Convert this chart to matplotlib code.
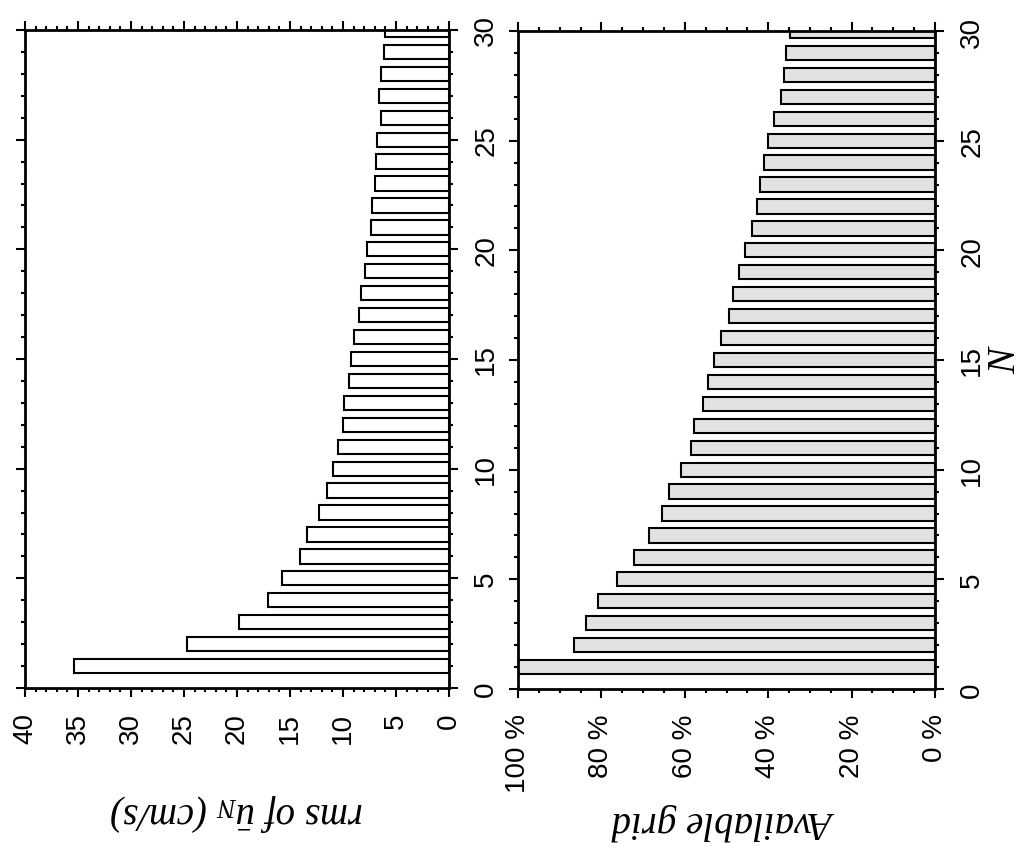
import matplotlib
matplotlib.use("Agg")
import matplotlib.pyplot as plt
from matplotlib.ticker import MultipleLocator, FuncFormatter

N = list(range(1, 31))
rms_values = [35.4, 24.7, 19.8, 17.1, 15.8, 14.1, 13.4, 12.3, 11.5, 10.9,
              10.5, 10.0, 9.9, 9.4, 9.2, 9.0, 8.45, 8.3, 7.95, 7.75,
              7.4, 7.25, 6.95, 6.9, 6.75, 6.45, 6.6, 6.45, 6.15, 6.0]
grid_values = [100, 86.5, 83.8, 80.9, 76.2, 72.2, 68.7, 65.5, 63.7, 61.0,
               58.6, 57.8, 55.7, 54.5, 52.9, 51.2, 49.4, 48.5, 46.9, 45.6,
               43.9, 42.6, 41.9, 41.0, 40.1, 38.7, 37.0, 36.3, 35.7, 34.8]
n_ticks = [0, 5, 10, 15, 20, 25, 30]

plt.rcParams['font.family'] = ['Liberation Sans', 'DejaVu Sans']
plt.rcParams['mathtext.fontset'] = 'custom'
plt.rcParams['mathtext.rm'] = 'Liberation Serif'
plt.rcParams['mathtext.it'] = 'Liberation Serif:italic'

W, H = 1034, 853
fig = plt.figure(figsize=(W / 100, H / 100), dpi=100)

def px_axes(x0, y0, x1, y1):
    return fig.add_axes([x0 / W, 1 - y1 / H, (x1 - x0) / W, (y1 - y0) / H])

ax1 = px_axes(25, 31, 449, 689)
ax2 = px_axes(518, 32, 935, 690)

label_font = dict(family='Liberation Serif', style='italic', size=28)

def style(ax, xmax, xmajor, xminor):
    ax.set_xlim(xmax, 0)
    ax.set_ylim(0, 30)
    ax.xaxis.set_major_locator(MultipleLocator(xmajor))
    ax.xaxis.set_minor_locator(MultipleLocator(xminor))
    ax.set_yticks(n_ticks)
    ax.yaxis.set_minor_locator(MultipleLocator(1))
    for s in ax.spines.values():
        s.set_linewidth(2.0)
    ax.tick_params(which='both', direction='out', top=True, bottom=True,
                   left=True, right=True, labelleft=False, labelright=True,
                   labeltop=False, labelbottom=True, width=1.5)
    ax.tick_params(which='major', length=6.5, labelsize=20, pad=11)
    ax.tick_params(which='minor', length=3)
    for t in ax.get_xticklabels():
        t.set_rotation(90)
    for t in ax.get_yticklabels():
        t.set_rotation(90)
        t.set_va('center')

ax1.barh(N, rms_values, height=0.65, color='white', edgecolor='black', linewidth=1.5)
style(ax1, 40, 5, 1)
ax1.set_xticklabels([f"{v:g}" for v in ax1.get_xticks()], rotation=90)
ax1.set_xlim(40, 0)
ax1.set_xlabel(r'rms of $\bar{u}_N$ (cm/s)', rotation=180, **label_font)
ax1.xaxis.set_label_coords(0.5, -0.187)
ax1.xaxis.label.set_va('center')

ax2.barh(N, grid_values, height=0.65, color='#e2e2e2', edgecolor='black', linewidth=1.5)
style(ax2, 100, 20, 5)
ax2.xaxis.set_major_formatter(FuncFormatter(lambda v, p: f"{v:.0f} %"))
for t in ax2.get_xticklabels():
    t.set_rotation(90)
ax2.set_xlabel('Available grid', rotation=180, **label_font)
ax2.xaxis.set_label_coords(0.5, -0.20)
ax2.xaxis.label.set_va('center')

ax2.yaxis.set_label_position('right')
ax2.set_ylabel('N', rotation=90, family='Liberation Serif', style='italic', size=28)
ax2.yaxis.set_label_coords((1006 - 518) / (935 - 518), 0.5)
ax2.yaxis.label.set_va('center')
ax2.yaxis.label.set_ha('center')

fig.savefig('out.png', dpi=100)
